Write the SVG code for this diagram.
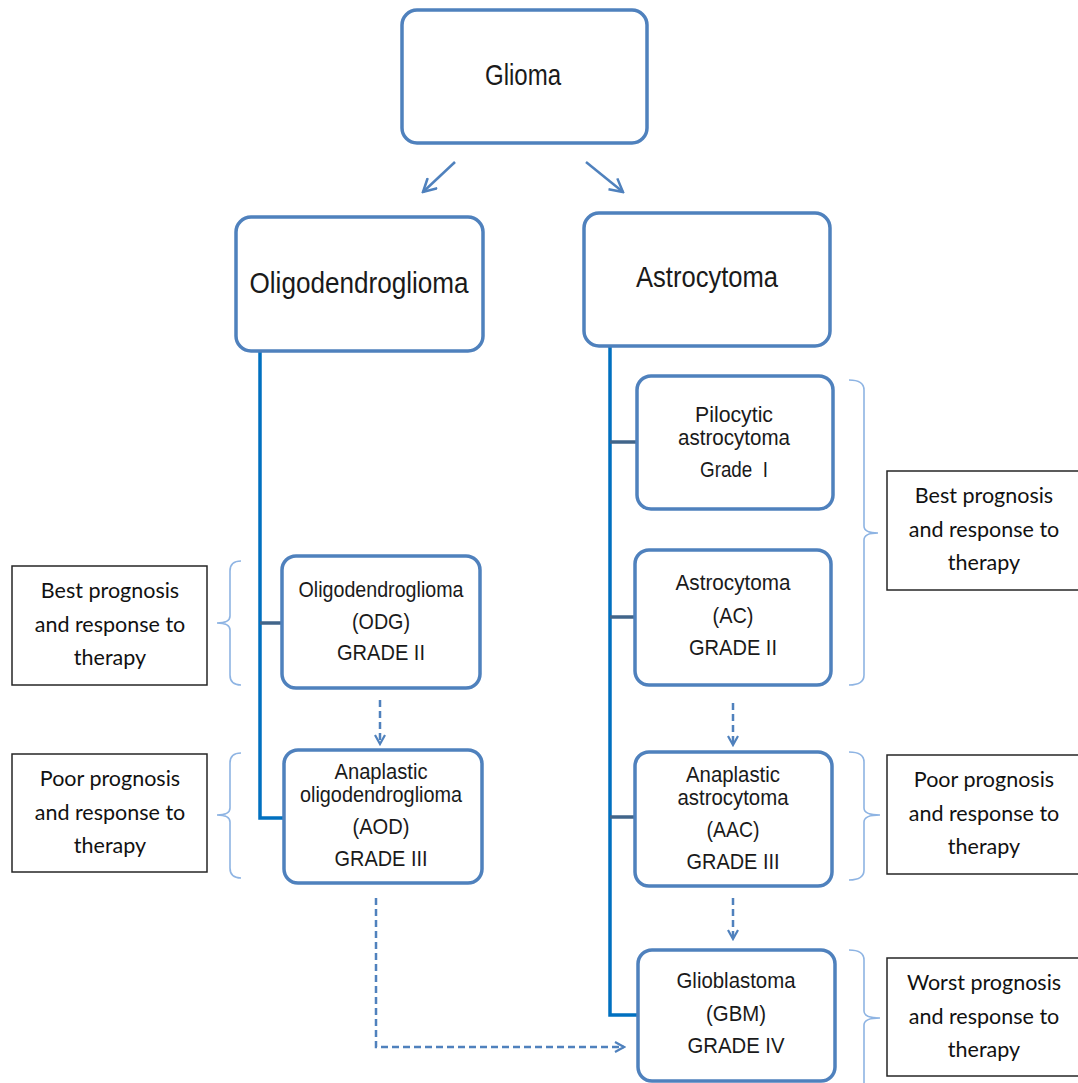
<svg xmlns="http://www.w3.org/2000/svg" width="1078" height="1083" viewBox="0 0 1078 1083">
<defs>
<style>
.box{fill:#fff;stroke:#4f81bd;stroke-width:3.5}
.lab{fill:#fff;stroke:#262626;stroke-width:1.5}
.t{font-family:"Liberation Sans",Arial,sans-serif;fill:#1a1a1a;text-anchor:middle}
.big{font-size:30px}
.sm{font-size:22px}
.c{font-family:Lato,"Open Sans","Liberation Sans",sans-serif;font-size:21.5px;fill:#111;text-anchor:middle}
.trunk{stroke:#0070c0;stroke-width:3.5;fill:none}
.br{stroke:#41658a;stroke-width:3.5;fill:none}
.dash{stroke:#4f81bd;stroke-width:2.5;stroke-dasharray:7,4;fill:none}
.arr{stroke:#4f81bd;stroke-width:2.5;fill:none}
.brace{stroke:#8eb4e3;stroke-width:1.6;fill:none}
</style>
<marker id="ah" viewBox="0 0 12 12" refX="10" refY="6" markerWidth="12" markerHeight="12" markerUnits="userSpaceOnUse" orient="auto">
<path d="M1,1 L10,6 L1,11" fill="none" stroke="#4f81bd" stroke-width="2.2"/>
</marker>
<marker id="ah2" viewBox="0 0 16 16" refX="14" refY="8" markerWidth="16" markerHeight="16" markerUnits="userSpaceOnUse" orient="auto">
<path d="M1,1 L14,8 L1,15" fill="none" stroke="#4f81bd" stroke-width="2.5"/>
</marker>
</defs>
<rect width="1078" height="1083" fill="#fff"/>
<g id="connectors">
<path class="trunk" d="M260,351 L260,818 L284,818"/>
<path class="br" d="M260,623 L282,623"/>
<path class="trunk" d="M610,346 L610,1015 L638,1015"/>
<path class="br" d="M610,442 L637,442"/>
<path class="br" d="M610,617 L635,617"/>
<path class="br" d="M610,817 L635,817"/>
<line class="arr" x1="455" y1="162" x2="423" y2="192" marker-end="url(#ah2)"/>
<line class="arr" x1="586" y1="162" x2="623" y2="192" marker-end="url(#ah2)"/>
<line class="dash" x1="380" y1="700" x2="380" y2="744" marker-end="url(#ah)"/>
<line class="dash" x1="733" y1="703" x2="733" y2="745" marker-end="url(#ah)"/>
<line class="dash" x1="733" y1="898" x2="733" y2="939" marker-end="url(#ah)"/>
<path class="dash" d="M376,898 L376,1047 L624,1047" marker-end="url(#ah)"/>
<path class="brace" d="M241,561 Q230,561 230,571 L230,616 Q230,623 217,623 Q230,623 230,630 L230,675 Q230,685 241,685"/>
<path class="brace" d="M241,753 Q230,753 230,763 L230,808 Q230,815 217,815 Q230,815 230,822 L230,868 Q230,878 241,878"/>
<path class="brace" d="M849,380 Q864,380 864,390 L864,526 Q864,533 878,533 Q864,533 864,540 L864,675 Q864,685 849,685"/>
<path class="brace" d="M849,752 Q864,752 864,762 L864,808 Q864,815 880,815 Q864,815 864,822 L864,870 Q864,880 849,880"/>
<path class="brace" d="M849,950 Q864,950 864,960 L864,1011 Q864,1018 880,1018 Q864,1018 864,1025 L864,1083"/>
</g>
<g id="glioma"><rect class="box" x="402" y="10" width="245" height="133" rx="15"/><text class="t big" x="523" y="85" textLength="76" lengthAdjust="spacingAndGlyphs">Glioma</text></g>
<g id="oligo"><rect class="box" x="236" y="217" width="247" height="134" rx="15"/><text class="t big" x="359" y="293" textLength="219" lengthAdjust="spacingAndGlyphs">Oligodendroglioma</text></g>
<g id="astro"><rect class="box" x="584" y="213" width="246" height="133" rx="15"/><text class="t big" x="707" y="287" textLength="142" lengthAdjust="spacingAndGlyphs">Astrocytoma</text></g>
<g id="odg"><rect class="box" x="282" y="556" width="198" height="132" rx="14"/>
<text class="t sm" x="381" y="597" textLength="165" lengthAdjust="spacingAndGlyphs">Oligodendroglioma</text><text class="t sm" x="381" y="629" textLength="58" lengthAdjust="spacingAndGlyphs">(ODG)</text><text class="t sm" x="381" y="660" textLength="88" lengthAdjust="spacingAndGlyphs">GRADE II</text></g>
<g id="aod"><rect class="box" x="284" y="750" width="198" height="133" rx="14"/>
<text class="t sm" x="381" y="779" textLength="93" lengthAdjust="spacingAndGlyphs">Anaplastic</text><text class="t sm" x="381" y="802" textLength="162" lengthAdjust="spacingAndGlyphs">oligodendroglioma</text><text class="t sm" x="381" y="834" textLength="57" lengthAdjust="spacingAndGlyphs">(AOD)</text><text class="t sm" x="381" y="866" textLength="93" lengthAdjust="spacingAndGlyphs">GRADE III</text></g>
<g id="pilo"><rect class="box" x="637" y="376" width="196" height="133" rx="14"/>
<text class="t sm" x="734" y="422" textLength="78" lengthAdjust="spacingAndGlyphs">Pilocytic</text><text class="t sm" x="734" y="445" textLength="112" lengthAdjust="spacingAndGlyphs">astrocytoma</text><text class="t sm" x="734" y="477" textLength="68" lengthAdjust="spacingAndGlyphs" style="white-space:pre">Grade  I</text></g>
<g id="ac"><rect class="box" x="635" y="550" width="196" height="135" rx="14"/>
<text class="t sm" x="733" y="590" textLength="115" lengthAdjust="spacingAndGlyphs">Astrocytoma</text><text class="t sm" x="733" y="623" textLength="41" lengthAdjust="spacingAndGlyphs">(AC)</text><text class="t sm" x="733" y="655" textLength="88" lengthAdjust="spacingAndGlyphs">GRADE II</text></g>
<g id="aac"><rect class="box" x="635" y="752" width="197" height="134" rx="14"/>
<text class="t sm" x="733" y="782" textLength="94" lengthAdjust="spacingAndGlyphs">Anaplastic</text><text class="t sm" x="733" y="805" textLength="111" lengthAdjust="spacingAndGlyphs">astrocytoma</text><text class="t sm" x="733" y="837" textLength="53" lengthAdjust="spacingAndGlyphs">(AAC)</text><text class="t sm" x="733" y="869" textLength="93" lengthAdjust="spacingAndGlyphs">GRADE III</text></g>
<g id="gbm"><rect class="box" x="638" y="950" width="197" height="131" rx="14"/>
<text class="t sm" x="736" y="988" textLength="119" lengthAdjust="spacingAndGlyphs">Glioblastoma</text><text class="t sm" x="736" y="1021" textLength="60" lengthAdjust="spacingAndGlyphs">(GBM)</text><text class="t sm" x="736" y="1053" textLength="97" lengthAdjust="spacingAndGlyphs">GRADE IV</text></g>
<g id="lab-best-left"><rect class="lab" x="12" y="566" width="195" height="119"/>
<text class="c" x="110" y="598">Best prognosis</text><text class="c" x="110" y="632">and response to</text><text class="c" x="110" y="665">therapy</text></g>
<g id="lab-poor-left"><rect class="lab" x="12" y="754" width="195" height="118"/>
<text class="c" x="110" y="786">Poor prognosis</text><text class="c" x="110" y="820">and response to</text><text class="c" x="110" y="853">therapy</text></g>
<g id="lab-best-right"><rect class="lab" x="887" y="471" width="195" height="119"/>
<text class="c" x="984" y="503">Best prognosis</text><text class="c" x="984" y="537">and response to</text><text class="c" x="984" y="570">therapy</text></g>
<g id="lab-poor-right"><rect class="lab" x="887" y="755" width="195" height="119"/>
<text class="c" x="984" y="787">Poor prognosis</text><text class="c" x="984" y="821">and response to</text><text class="c" x="984" y="854">therapy</text></g>
<g id="lab-worst-right"><rect class="lab" x="887" y="958" width="195" height="118"/>
<text class="c" x="984" y="990">Worst prognosis</text><text class="c" x="984" y="1024">and response to</text><text class="c" x="984" y="1057">therapy</text></g>
</svg>
